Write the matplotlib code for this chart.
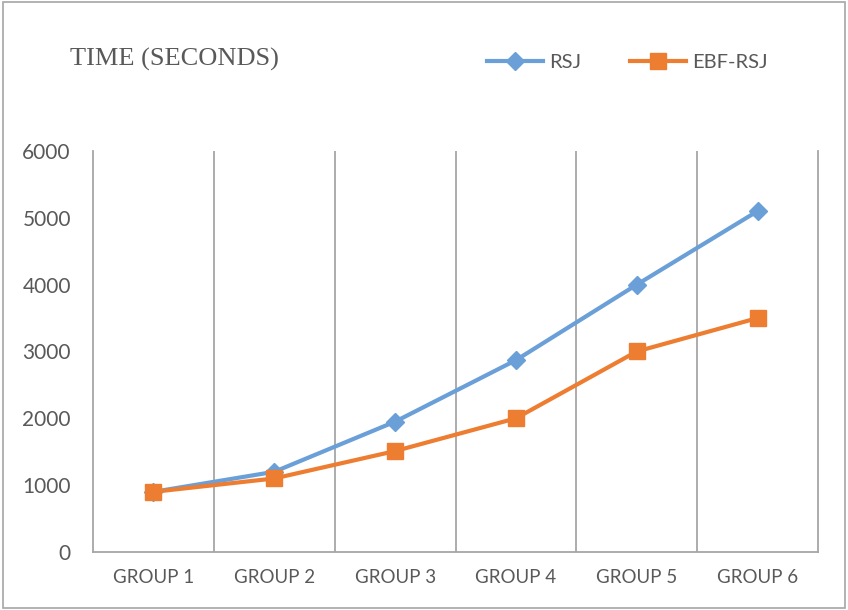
import numpy as np
import matplotlib.pyplot as plt
from matplotlib.patches import Rectangle

# data
groups = ["GROUP 1", "GROUP 2", "GROUP 3", "GROUP 4", "GROUP 5", "GROUP 6"]
rsj = [900, 1200, 1950, 2870, 4000, 5100]
ebf_rsj = [900, 1100, 1510, 2000, 3000, 3500]
y_ticks = [0, 1000, 2000, 3000, 4000, 5000, 6000]

blue = "#6A9FD8"
orange = "#ED7D31"
txt = "#595959"
grid = "#A6A6A6"

fig = plt.figure(figsize=(8.48, 6.10), dpi=100)
ax = fig.add_axes([0.1097, 0.0951, 0.8549, 0.6574])

x = np.arange(len(groups))
ax.plot(x, rsj, color=blue, lw=3, marker="D", ms=9, label="RSJ", zorder=3)
ax.plot(x, ebf_rsj, color=orange, lw=3, marker="s", ms=11, label="EBF-RSJ", zorder=4)

ax.set_xlim(-0.5, len(groups) - 0.5)
ax.set_ylim(0, 6000)
ax.set_yticks(y_ticks)
ax.set_xticks(x)
ax.set_xticklabels(groups)
ax.set_xticks(x[:-1] + 0.5, minor=True)
ax.grid(True, which="minor", axis="x", color=grid, lw=1.3)
ax.tick_params(which="both", length=0)
ax.tick_params(axis="y", labelcolor=txt, pad=16)
ax.tick_params(axis="x", labelcolor=txt, pad=12)
for lab in ax.get_yticklabels():
    lab.set_fontproperties({"family": "Lato", "size": 15})
for lab in ax.get_xticklabels():
    lab.set_fontproperties({"family": "Lato", "size": 13.5})

ax.spines["top"].set_visible(False)
for s in ["left", "right", "bottom"]:
    ax.spines[s].set_color(grid)
    ax.spines[s].set_linewidth(1.3)

fig.text(0.083, 0.902, "TIME (SECONDS)", family="Liberation Serif", fontsize=19,
         color=txt, va="center", ha="left")

leg = fig.legend(loc="center", bbox_to_anchor=(0.74, 0.898), ncol=2, frameon=False,
                 handlelength=2.8, columnspacing=2.4, handletextpad=0.3,
                 prop={"family": "Lato", "size": 14.5})
for t in leg.get_texts():
    t.set_color(txt)

fig.patches.append(Rectangle((0.003, 0.004), 0.994, 0.992, transform=fig.transFigure,
                             fill=False, edgecolor="#A6A6A6", lw=1.2))

fig.savefig("out.png", dpi=100)
